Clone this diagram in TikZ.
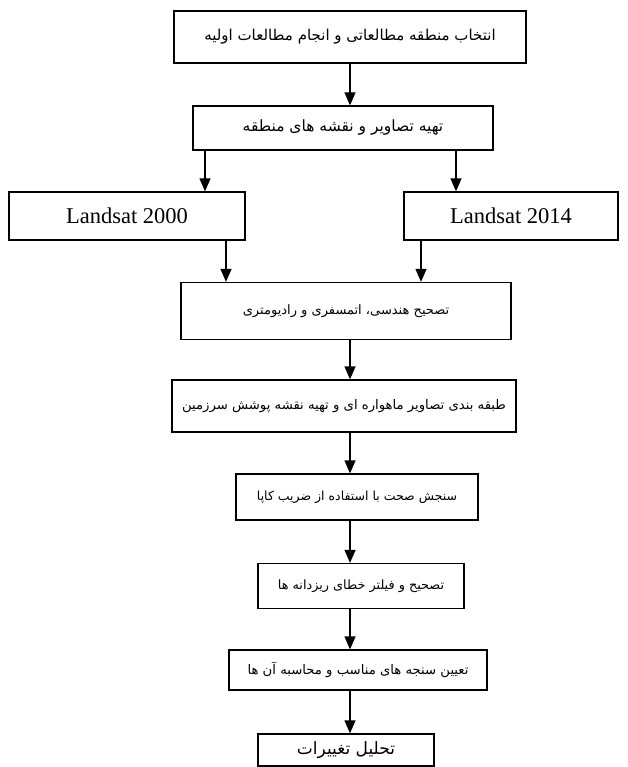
\documentclass[tikz,border=0pt]{standalone}
\usepackage{fontspec}
\setmainfont{Liberation Serif}
\newfontfamily\farsi[Script=Arabic]{DejaVu Sans}
\TeXXeTstate=1
\usetikzlibrary{arrows.meta}

\begin{document}
\begin{tikzpicture}[x=1pt,y=-1pt,
	flowbox/.style={draw,line width=1.3pt,fill=white,inner sep=0pt,font=\fontsize{#1}{#1}\farsi},
	flowbox/.default=13,
	latinbox/.style={draw,line width=1.3pt,fill=white,inner sep=0pt,font=\fontsize{22.5}{24}\selectfont},
	flowarrow/.style={line width=1.3pt,-{Triangle[width=11pt,length=13pt]}}]
	% page
	\fill[white] (0,0) rectangle (627,767);
	\useasboundingbox (0,0) rectangle (627,767);
	% draw steps
	\node[flowbox=15,minimum width=352pt,minimum height=52pt] (select) at (350,37) {\beginR انتخاب منطقه مطالعاتی و انجام مطالعات اولیه\endR};
	\node[flowbox=15.5,minimum width=300pt,minimum height=44pt] (images) at (343,128) {\beginR تهیه تصاویر و نقشه های منطقه\endR};
	\node[latinbox,minimum width=236pt,minimum height=48pt] (ls2000) at (127,216) {Landsat 2000};
	\node[latinbox,minimum width=214pt,minimum height=48pt] (ls2014) at (511,216) {Landsat 2014};
	\node[flowbox=13,minimum width=330pt,minimum height=57pt] (geo) at (346,311) {\beginR تصحیح هندسی، اتمسفری و رادیومتری\endR};
	\node[flowbox=13.2,minimum width=344pt,minimum height=52pt] (classify) at (344,406) {\beginR طبقه بندی تصاویر ماهواره ای و تهیه نقشه پوشش سرزمین\endR};
	\node[flowbox=12.5,minimum width=242pt,minimum height=46pt] (kappa) at (357,497) {\beginR سنجش صحت با استفاده از ضریب کاپا\endR};
	\node[flowbox=12.8,minimum width=206pt,minimum height=45pt] (filter) at (361,586) {\beginR تصحیح و فیلتر خطای ریزدانه ها\endR};
	\node[flowbox=13.2,minimum width=258pt,minimum height=40pt] (metrics) at (358,670) {\beginR تعیین سنجه های مناسب و محاسبه آن ها\endR};
	\node[flowbox=17,minimum width=176pt,minimum height=32pt] (change) at (346,750) {\beginR تحلیل تغییرات\endR};
	% draw arrows
	\coordinate (axis) at (350,0);
	\coordinate (left1) at (205,0);
	\coordinate (right1) at (456,0);
	\coordinate (left2) at (226,0);
	\coordinate (right2) at (421,0);
	\draw[flowarrow] (select.south -| axis) -- (images.north -| axis);
	\draw[flowarrow] (images.south -| left1) -- (ls2000.north -| left1);
	\draw[flowarrow] (images.south -| right1) -- (ls2014.north -| right1);
	\draw[flowarrow] (ls2000.south -| left2) -- (geo.north -| left2);
	\draw[flowarrow] (ls2014.south -| right2) -- (geo.north -| right2);
	\foreach \a/\b in {geo/classify,classify/kappa,kappa/filter,filter/metrics,metrics/change}
		\draw[flowarrow] (\a.south -| axis) -- (\b.north -| axis);
\end{tikzpicture}
\end{document}
